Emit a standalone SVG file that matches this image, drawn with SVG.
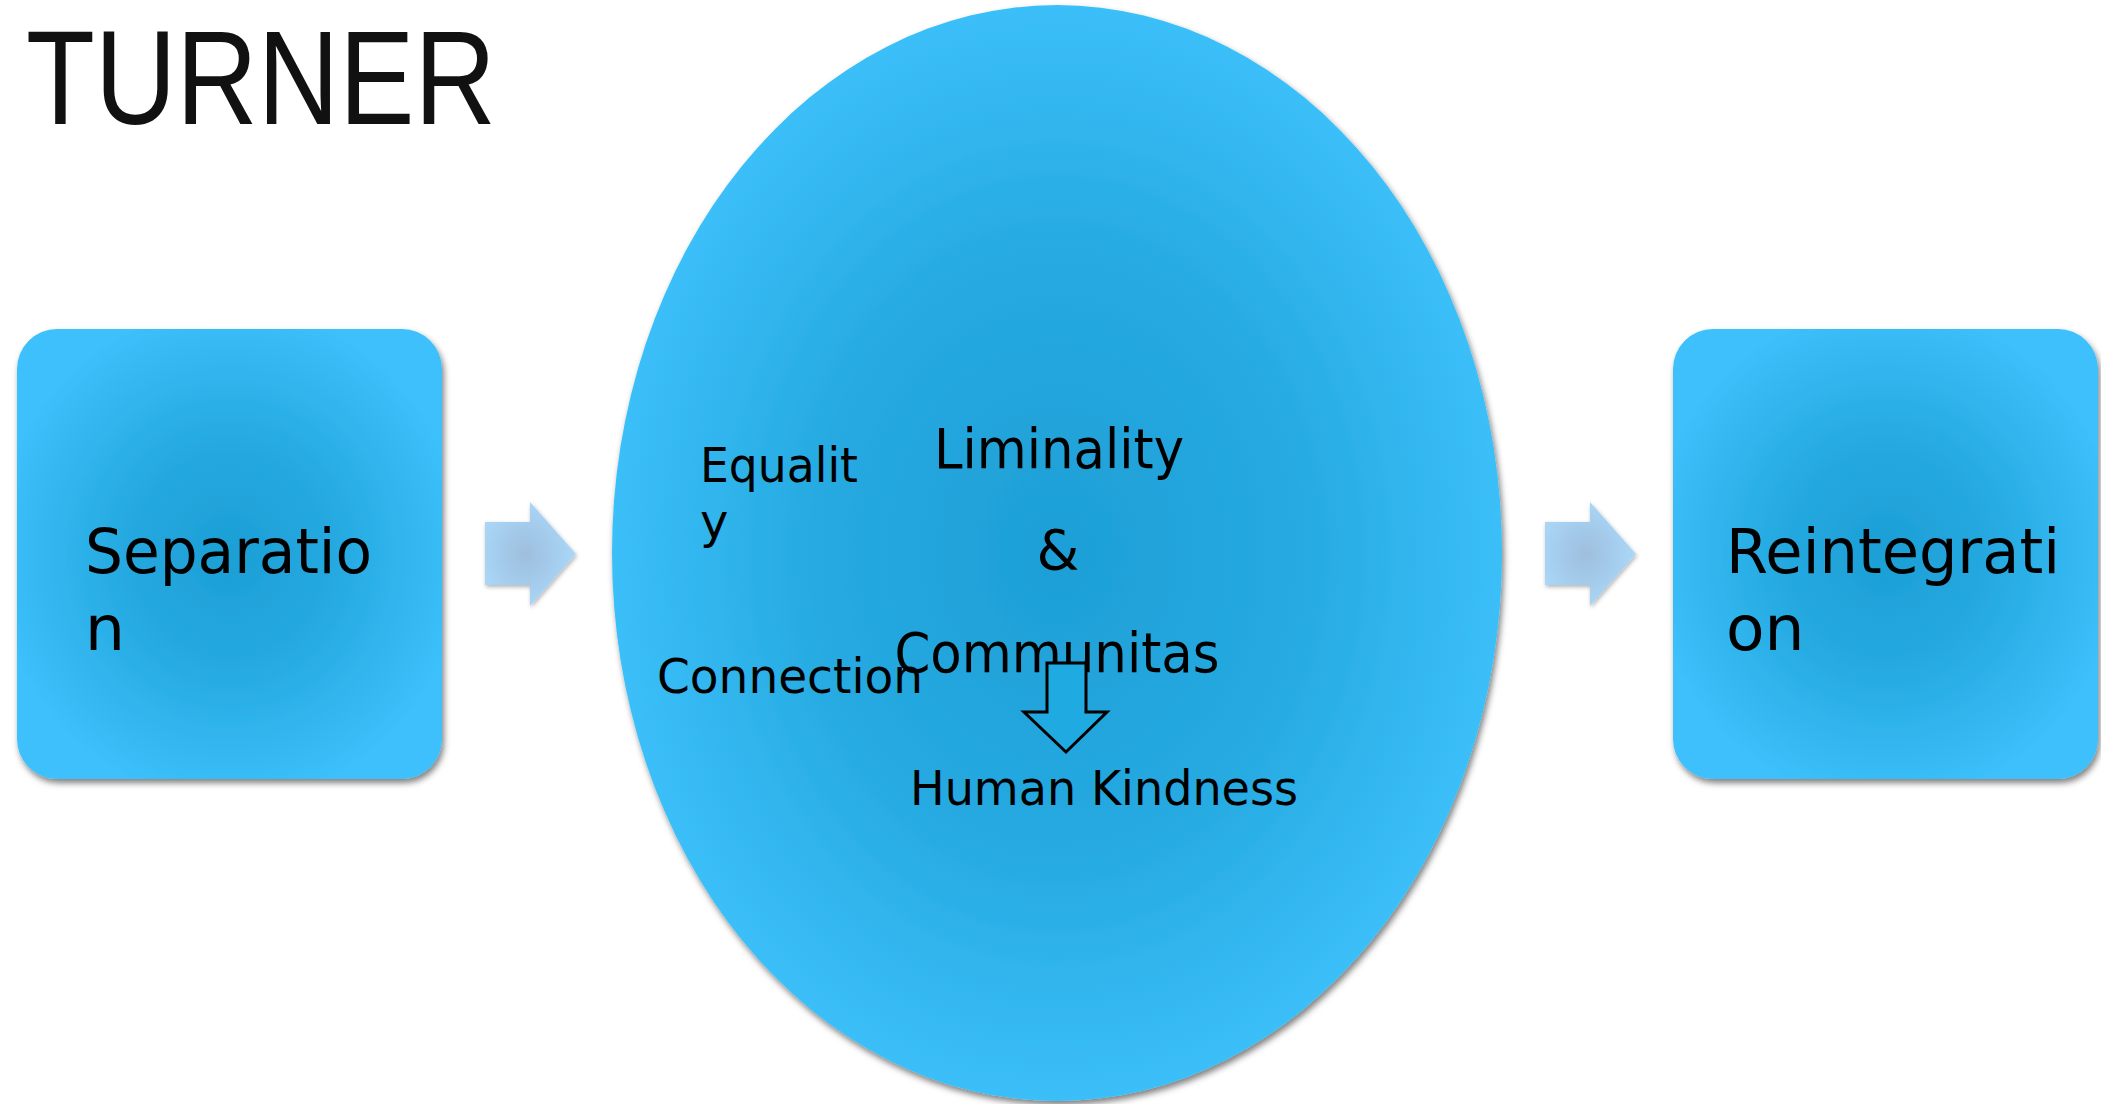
<svg xmlns="http://www.w3.org/2000/svg" width="2101" height="1104" viewBox="0 0 2101 1104">
<defs>
<radialGradient id="gBox" cx="50%" cy="50%" r="55%">
<stop offset="0" stop-color="#1c9fd5"/>
<stop offset="0.45" stop-color="#25a9e0"/>
<stop offset="1" stop-color="#3cc0fb"/>
</radialGradient>
<radialGradient id="gEll" cx="50%" cy="50%" r="50%">
<stop offset="0" stop-color="#1d9fd6"/>
<stop offset="0.55" stop-color="#26aae1"/>
<stop offset="1" stop-color="#3bbff9"/>
</radialGradient>
<radialGradient id="gArr" cx="45%" cy="50%" r="55%">
<stop offset="0" stop-color="#9ebfdc"/>
<stop offset="0.6" stop-color="#a5cdee"/>
<stop offset="1" stop-color="#abd8f8"/>
</radialGradient>
<filter id="sh" x="-10%" y="-10%" width="120%" height="120%">
<feDropShadow dx="2" dy="4" stdDeviation="3" flood-color="#000" flood-opacity="0.5"/>
</filter>
<filter id="shA" x="-10%" y="-10%" width="130%" height="130%">
<feDropShadow dx="1" dy="2" stdDeviation="2" flood-color="#000" flood-opacity="0.3"/>
</filter>
</defs>
<style>
.t{font-family:"DejaVu Sans","Liberation Sans",sans-serif;fill:#000;}
.big{font-size:63px;}
.mid{font-size:55px;}
.sm{font-size:48px;}
</style>
<rect width="2101" height="1104" fill="#ffffff"/>
<text x="26" y="124" font-family="Liberation Sans, Arial, sans-serif" font-size="133" fill="#111" textLength="470" lengthAdjust="spacingAndGlyphs">TURNER</text>

<g id="separation">
<rect x="17" y="329" width="425" height="450" rx="40" fill="url(#gBox)" filter="url(#sh)"/>
<text class="t big" x="85" y="573" textLength="287" lengthAdjust="spacingAndGlyphs">Separatio</text>
<text class="t big" x="85" y="650">n</text>
</g>

<g id="liminality">
<ellipse cx="1057" cy="553" rx="445" ry="548" fill="url(#gEll)" filter="url(#sh)"/>
<text class="t mid" x="1059" y="468" text-anchor="middle" textLength="250" lengthAdjust="spacingAndGlyphs">Liminality</text>
<text class="t mid" x="1058" y="569" text-anchor="middle">&amp;</text>
<text class="t mid" x="1057" y="672" text-anchor="middle" textLength="325" lengthAdjust="spacingAndGlyphs">Communitas</text>
<text class="t sm" x="700" y="482" textLength="158" lengthAdjust="spacingAndGlyphs">Equalit</text>
<text class="t sm" x="700" y="538">y</text>
<text class="t sm" x="657" y="693" textLength="266" lengthAdjust="spacingAndGlyphs">Connection</text>
<text class="t sm" x="910" y="805" textLength="388" lengthAdjust="spacingAndGlyphs">Human Kindness</text>
</g>

<g id="reintegration">
<rect x="1673" y="329" width="425" height="450" rx="40" fill="url(#gBox)" filter="url(#sh)"/>
<text class="t big" x="1726" y="573" textLength="334" lengthAdjust="spacingAndGlyphs">Reintegrati</text>
<text class="t big" x="1726" y="650">on</text>
</g>

<g id="connectors">
<polygon points="485,522 530,522 530,502 576,554 530,606 530,585 485,585" fill="url(#gArr)" filter="url(#shA)"/>
<polygon points="1545,522 1590,522 1590,502 1636,554 1590,606 1590,585 1545,585" fill="url(#gArr)" filter="url(#shA)"/>
<polygon points="1047,663 1086,663 1086,712 1107,712 1066,752 1024,712 1047,712" fill="#20aae2" stroke="#000" stroke-width="3" stroke-linejoin="miter"/>
</g>
</svg>
